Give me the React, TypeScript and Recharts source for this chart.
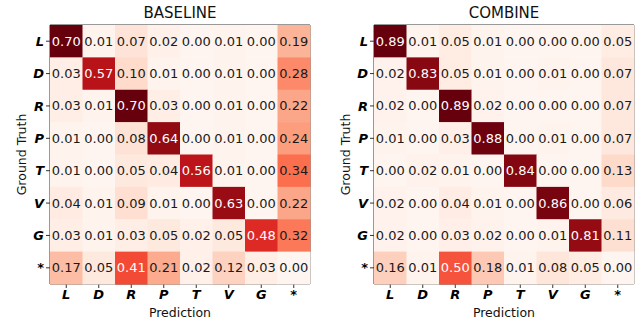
import React from "react"
import { ReferenceArea, Scatter, ScatterChart, XAxis, YAxis } from "recharts"

const LABELS = ["L", "D", "R", "P", "T", "V", "G", "*"]

const BASELINE = [
  [0.7, 0.01, 0.07, 0.02, 0.0, 0.01, 0.0, 0.19],
  [0.03, 0.57, 0.1, 0.01, 0.0, 0.01, 0.0, 0.28],
  [0.03, 0.01, 0.7, 0.03, 0.0, 0.01, 0.0, 0.22],
  [0.01, 0.0, 0.08, 0.64, 0.0, 0.01, 0.0, 0.24],
  [0.01, 0.0, 0.05, 0.04, 0.56, 0.01, 0.0, 0.34],
  [0.04, 0.01, 0.09, 0.01, 0.0, 0.63, 0.0, 0.22],
  [0.03, 0.01, 0.03, 0.05, 0.02, 0.05, 0.48, 0.32],
  [0.17, 0.05, 0.41, 0.21, 0.02, 0.12, 0.03, 0.0],
]

const COMBINE = [
  [0.89, 0.01, 0.05, 0.01, 0.0, 0.0, 0.0, 0.05],
  [0.02, 0.83, 0.05, 0.01, 0.0, 0.01, 0.0, 0.07],
  [0.02, 0.0, 0.89, 0.02, 0.0, 0.0, 0.0, 0.07],
  [0.01, 0.0, 0.03, 0.88, 0.0, 0.01, 0.0, 0.07],
  [0.0, 0.02, 0.01, 0.0, 0.84, 0.0, 0.0, 0.13],
  [0.02, 0.0, 0.04, 0.01, 0.0, 0.86, 0.0, 0.06],
  [0.02, 0.0, 0.03, 0.02, 0.0, 0.01, 0.81, 0.11],
  [0.16, 0.01, 0.5, 0.18, 0.01, 0.08, 0.05, 0.0],
]

// matplotlib "Reds"
const REDS = [
  "#fff5f0", "#fee0d2", "#fcbba1", "#fc9272", "#fb6a4a",
  "#ef3b2c", "#cb181d", "#a50f15", "#67000d",
]

function hex(c: string) {
  return [1, 3, 5].map((i) => parseInt(c.slice(i, i + 2), 16))
}

function reds(t: number) {
  const v = Math.max(0, Math.min(1, t)) * (REDS.length - 1)
  const i = Math.min(Math.floor(v), REDS.length - 2)
  const f = v - i
  const a = hex(REDS[i])
  const b = hex(REDS[i + 1])
  const m = a.map((x, k) => Math.round(x + (b[k] - x) * f))
  return `rgb(${m[0]},${m[1]},${m[2]})`
}

const FONT = "DejaVu Sans, sans-serif"
const TICKS = [0, 1, 2, 3, 4, 5, 6, 7]

function Matrix({
  title,
  values,
  yWidth,
  right,
}: {
  title: string
  values: number[][]
  yWidth: number
  right: number
}) {
  const W = 320
  const H = 324
  const top = 25
  const xHeight = 40
  const cw = (W - yWidth - right) / 8
  const ch = (H - top - xHeight) / 8
  const max = Math.max(...values.flat())

  const cells = values.flatMap((row, r) =>
    row.map((v, c) => ({ x: c, y: r, v }))
  )

  const renderCell = (props: any) => {
    const { cx, cy, payload } = props
    const v = payload.v
    return (
      <g>
        <rect
          x={cx - cw / 2}
          y={cy - ch / 2}
          width={cw + 0.5}
          height={ch + 0.5}
          fill={reds(v / max)}
        />
        <text
          x={cx}
          y={cy}
          textAnchor="middle"
          dominantBaseline="central"
          fontSize={13}
          fontFamily={FONT}
          fill={v > max / 2 ? "#ffffff" : "#1a1a1a"}
        >
          {v.toFixed(2)}
        </text>
      </g>
    )
  }

  const tickStyle = {
    fill: "#000",
    fontSize: 13,
    fontWeight: "bold" as const,
    fontStyle: "italic" as const,
    fontFamily: FONT,
  }

  return (
    <div style={{ position: "relative", width: W, height: H }}>
      <div
        style={{
          position: "absolute",
          top: 6,
          left: yWidth,
          width: W - yWidth - right,
          textAlign: "center",
          fontFamily: FONT,
          fontSize: 15,
          lineHeight: "15px",
          color: "#111",
        }}
      >
        {title}
      </div>
      <ScatterChart
        width={W}
        height={H}
        margin={{ top, right, bottom: 0, left: 0 }}
      >
        <XAxis
          type="number"
          dataKey="x"
          domain={[-0.5, 7.5]}
          ticks={TICKS}
          tickFormatter={(i: number) => LABELS[i]}
          height={xHeight}
          tickSize={4}
          axisLine={false}
          tickLine={{ stroke: "#333" }}
          tick={tickStyle}
          interval={0}
          label={({ viewBox }: any) => (
            <text
              x={viewBox.x + viewBox.width / 2}
              y={viewBox.y + 33}
              textAnchor="middle"
              fontSize={12.5}
              fontFamily={FONT}
              fill="#111"
            >
              Prediction
            </text>
          )}
        />
        <YAxis
          type="number"
          dataKey="y"
          domain={[-0.5, 7.5]}
          reversed
          ticks={TICKS}
          tickFormatter={(i: number) => LABELS[i]}
          width={yWidth}
          tickSize={4}
          axisLine={false}
          tickLine={{ stroke: "#333" }}
          tick={tickStyle}
          interval={0}
          label={({ viewBox }: any) => {
            const x = viewBox.x + yWidth - 24
            const y = viewBox.y + viewBox.height / 2
            return (
              <text
                x={x}
                y={y}
                transform={`rotate(-90 ${x} ${y})`}
                textAnchor="middle"
                fontSize={12.5}
                fontFamily={FONT}
                fill="#111"
              >
                Ground Truth
              </text>
            )
          }}
        />
        <Scatter data={cells} shape={renderCell} isAnimationActive={false} />
        <ReferenceArea
          x1={-0.5}
          x2={7.5}
          y1={-0.5}
          y2={7.5}
          fill="none"
          stroke="#333"
          strokeWidth={1}
          fillOpacity={0}
        />
      </ScatterChart>
    </div>
  )
}

export default function App() {
  return (
    <div
      style={{
        position: "absolute",
        left: 0,
        top: 0,
        width: 639,
        height: 324,
        display: "flex",
        background: "#fff",
      }}
    >
      <Matrix title="BASELINE" values={BASELINE} yWidth={50} right={10} />
      <Matrix title="COMBINE" values={COMBINE} yWidth={54} right={6} />
    </div>
  )
}
